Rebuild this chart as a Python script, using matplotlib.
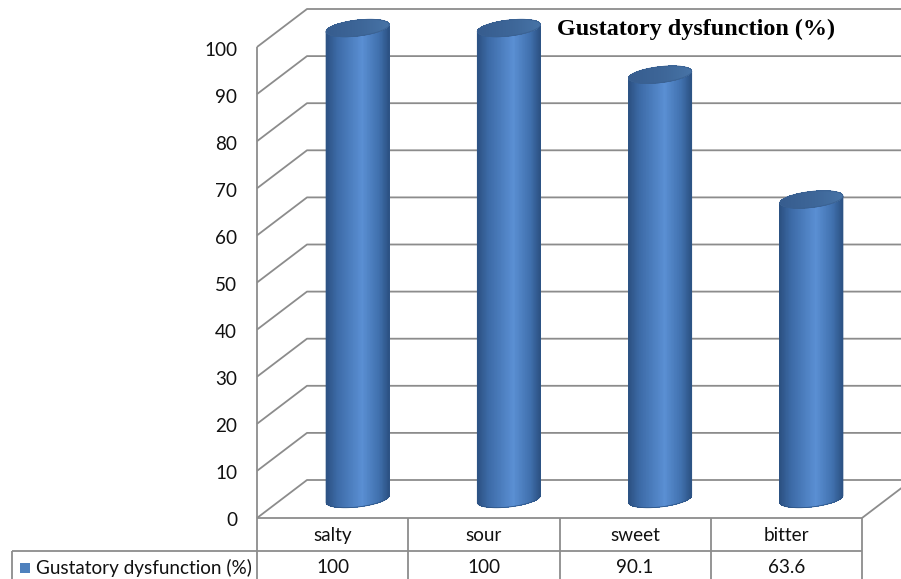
import matplotlib
matplotlib.use("Agg")
import matplotlib.pyplot as plt
import numpy as np
from matplotlib.collections import PolyCollection
from matplotlib.colors import LinearSegmentedColormap
from matplotlib.lines import Line2D
from matplotlib.patches import Polygon, Rectangle
from matplotlib.transforms import IdentityTransform

# data
categories = ["salty", "sour", "sweet", "bitter"]
values = [100, 100, 90.1, 63.6]
value_labels = ["100", "100", "90.1", "63.6"]
series_name = "Gustatory dysfunction (%)"
yticks = list(range(0, 101, 10))

W, H, DPI = 901, 579, 100
GRID = "#8c8c8c"
TXT_FONT = ["Lato", "DejaVu Sans"]
TXT_SIZE = 13.6

fig = plt.figure(figsize=(W / DPI, H / DPI), dpi=DPI)
# front plane of the 3-D box
ax = fig.add_axes([257 / W, (H - 518) / H, 605 / W, 471 / H])
ax.set_xlim(0, len(categories))
ax.set_ylim(0, 100)
ax.axis("off")

depth_px = np.array([0.50, 0.38]) * DPI   # back wall offset
row_h = 0.33 * DPI                          # data table row height


def proj(x, v, d=0.0):
    p = ax.transData.transform(np.column_stack([np.atleast_1d(x), np.atleast_1d(v)]))
    return p + d * depth_px


def line(pts, **kw):
    pts = np.asarray(pts)
    fig.add_artist(Line2D(pts[:, 0], pts[:, 1], transform=IdentityTransform(),
                          color=GRID, lw=1.3, solid_capstyle="butt", **kw))


n = len(categories)

# walls + gridlines
for v in yticks:
    pts = np.vstack([proj(0, v), proj(0, v, 1), proj(n, v, 1)])
    line(pts, zorder=1)
    p = proj(0, v)[0]
    fig.text((p[0] - 20) / W, (p[1] - 3) / H, str(v), ha="right", va="center",
             fontsize=TXT_SIZE, family=TXT_FONT, color="#111111")
line(np.vstack([proj(0, 0), proj(0, 100)]), zorder=1)
line(np.vstack([proj(0, 0), proj(n, 0)]), zorder=1)
line(np.vstack([proj(n, 0), proj(n, 0, 1)]), zorder=1)

# data table
y0 = proj(0, 0)[0][1]
legend_left = 12
for i in range(n + 1):
    x = proj(i, 0)[0][0]
    line([[x, y0], [x, y0 - 2 * row_h]], zorder=1)
line([[legend_left, y0 - row_h], [proj(n, 0)[0][0], y0 - row_h]], zorder=1)
line([[legend_left, y0 - row_h], [legend_left, y0 - 2 * row_h]], zorder=1)
line([[legend_left, y0 - 2 * row_h], [proj(n, 0)[0][0], y0 - 2 * row_h]], zorder=1)

for i, (cat, lab) in enumerate(zip(categories, value_labels)):
    x = proj(i + 0.5, 0)[0][0]
    fig.text(x / W, (y0 - 0.5 * row_h - 1) / H, cat, ha="center", va="center",
             fontsize=TXT_SIZE, family=TXT_FONT, color="#111111")
    fig.text(x / W, (y0 - 1.5 * row_h) / H, lab, ha="center", va="center",
             fontsize=TXT_SIZE, family=TXT_FONT, color="#111111")

fig.add_artist(Rectangle((20, y0 - 1.5 * row_h - 5), 10, 10, transform=IdentityTransform(),
                         facecolor="#4f81bd", edgecolor="none"))
fig.text(36 / W, (y0 - 1.5 * row_h) / H, series_name, ha="left", va="center",
         fontsize=TXT_SIZE, family=TXT_FONT, color="#111111")

# cylinders
body_cmap = LinearSegmentedColormap.from_list(
    "body", [(0.0, "#2b4f80"), (0.18, "#3c6aa6"), (0.58, "#5a8fd3"),
             (0.85, "#4070ad"), (1.0, "#2c5284")])
cap_cmap = LinearSegmentedColormap.from_list(
    "cap", [(0.0, "#365c8e"), (0.6, "#3e6799"), (1.0, "#4773a6")])

bar_frac = 0.417
b = 8.0
shear = 0.11
th_front = np.linspace(np.pi, 2 * np.pi, 120)
th_top = np.linspace(np.pi, 0, 120)


def strips(lo, hi):
    return [[lo[k], lo[k + 1], hi[k + 1], hi[k]] for k in range(len(lo) - 1)]


for i, v in enumerate(values):
    c0 = proj(i + 0.5, 0, 0.5)[0]
    c1 = proj(i + 0.5, v, 0.5)[0]
    a = proj(i + 0.5 + bar_frac / 2, 0)[0][0] - proj(i + 0.5, 0)[0][0]

    def arc(c, th, sgn=1):
        return np.column_stack([c[0] + a * np.cos(th),
                                c[1] + sgn * b * np.sin(th) + shear * a * np.cos(th)])

    lo, hi = arc(c0, th_front), arc(c1, th_front)
    u = (np.cos(0.5 * (th_front[:-1] + th_front[1:])) + 1) / 2
    cols = body_cmap(u)
    fig.add_artist(PolyCollection(strips(lo, hi), facecolors=cols, edgecolors="none",
                                  antialiased=False, transform=IdentityTransform(), zorder=3))
    fig.add_artist(Polygon(np.vstack([lo, hi[::-1]]), closed=True, facecolor="none",
                           edgecolor="#2e5586", lw=0.6, transform=IdentityTransform(), zorder=3.5))

    up, dn = arc(c1, th_top), arc(c1, th_top, -1)
    u = (np.cos(0.5 * (th_top[:-1] + th_top[1:])) + 1) / 2
    cols = cap_cmap(u)
    fig.add_artist(PolyCollection(strips(dn, up), facecolors=cols, edgecolors="none",
                                  antialiased=False, transform=IdentityTransform(), zorder=4))
    fig.add_artist(Polygon(np.vstack([up, dn[::-1]]), closed=True, facecolor="none",
                           edgecolor="#3a6192", lw=0.6, transform=IdentityTransform(), zorder=4.5))

fig.text(696 / W, 1 - 29 / H, series_name, ha="center", va="center",
         fontsize=17.4, fontweight="bold", family="Liberation Serif", color="black")

fig.savefig("out.png", dpi=DPI)
